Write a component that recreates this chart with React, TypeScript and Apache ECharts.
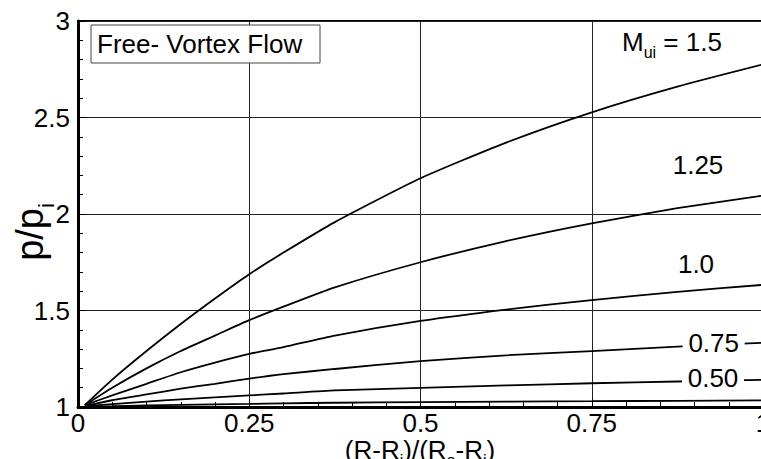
import { useEffect, useRef } from "react";
import * as echarts from "echarts";

// x = (R-Ri)/(Ro-Ri)
const xValues = [0.01, 0.05, 0.1, 0.15, 0.2, 0.25, 0.3, 0.375, 0.5, 0.625, 0.75, 0.875, 1.0];
// p/pi for each inlet Mach number
const m150 = [1.01, 1.142, 1.29, 1.43, 1.562, 1.688, 1.8, 1.958, 2.185, 2.37, 2.527, 2.66, 2.775];
const m125 = [1.01, 1.1, 1.2, 1.29, 1.37, 1.45, 1.52, 1.62, 1.75, 1.86, 1.952, 2.03, 2.095];
const m100 = [1.01, 1.06, 1.12, 1.18, 1.23, 1.275, 1.31, 1.37, 1.446, 1.505, 1.554, 1.597, 1.633];
const m075 = [1.005, 1.035, 1.065, 1.095, 1.12, 1.147, 1.17, 1.197, 1.238, 1.268, 1.29, 1.313, 1.333];
const m050 = [1.003, 1.015, 1.028, 1.04, 1.05, 1.06, 1.07, 1.086, 1.099, 1.112, 1.123, 1.132, 1.141];
const m025 = [1.001, 1.004, 1.008, 1.011, 1.014, 1.016, 1.019, 1.022, 1.025, 1.028, 1.03, 1.032, 1.034];

const seriesNames = ["1.5", "1.25", "1.0", "0.75", "0.50", "0.25"];
const seriesValues = [m150, m125, m100, m075, m050, m025];

const FONT = '"Liberation Sans", Arial, Helvetica, sans-serif';

export default function App() {
  const ref = useRef<HTMLDivElement>(null);
  useEffect(() => {
    if (!ref.current) return;
    const chart = echarts.init(ref.current, null, { renderer: "svg" });
    const inlineLabel = (text: string, coord: [number, number]) => ({
      silent: true,
      symbol: "rect",
      symbolSize: [62, 24],
      itemStyle: { color: "#fff" },
      label: {
        show: true,
        position: "inside",
        formatter: text,
        color: "#000",
        fontSize: 26,
        fontFamily: FONT,
      },
      data: [{ coord }],
    });
    const series = seriesValues.map((vals, i) => {
      const s: any = {
        name: seriesNames[i],
        type: "line",
        data: xValues.map((x, j) => [x, vals[j]]),
        showSymbol: false,
        smooth: 0.2,
        lineStyle: { color: "#000", width: 1.8 },
        z: 3,
      };
      if (seriesNames[i] === "0.75") s.markPoint = inlineLabel("0.75", [0.928, 1.333]);
      if (seriesNames[i] === "0.50") s.markPoint = inlineLabel("0.50", [0.927, 1.152]);
      return s;
    });
    const subRich = {
      m: { fontSize: 26, lineHeight: 26, verticalAlign: "top", fontFamily: FONT, color: "#000" },
      s: { fontSize: 16, lineHeight: 31, verticalAlign: "bottom", fontFamily: FONT, color: "#000" },
    };
    chart.setOption({
      animation: false,
      backgroundColor: "#fff",
      grid: {
        left: 78,
        top: 21,
        width: 685,
        height: 386,
        outerBoundsMode: "none",
        containLabel: false,
        show: true,
        borderColor: "#000",
        borderWidth: 2,
        backgroundColor: "transparent",
      },
      xAxis: {
        type: "value",
        min: 0,
        max: 1,
        interval: 0.25,
        axisLine: { show: true, onZero: false, lineStyle: { color: "#000", width: 3 } },
        axisTick: { show: true, inside: true, length: 8, lineStyle: { color: "#000", width: 1 } },
        minorTick: { show: true, splitNumber: 5, length: 5, lineStyle: { color: "#000", width: 1 } },
        splitLine: { show: true, lineStyle: { color: "#222", width: 1 } },
        axisLabel: { fontSize: 26, color: "#000", fontFamily: FONT, margin: 3 },
      },
      yAxis: {
        type: "value",
        min: 1,
        max: 3,
        interval: 0.5,
        axisLine: { show: true, onZero: false, lineStyle: { color: "#000", width: 3 } },
        axisTick: { show: true, inside: true, length: 8, lineStyle: { color: "#000", width: 1 } },
        minorTick: { show: true, splitNumber: 5, length: 5, lineStyle: { color: "#000", width: 1 } },
        splitLine: { show: true, lineStyle: { color: "#222", width: 1 } },
        axisLabel: { fontSize: 26, color: "#000", fontFamily: FONT, margin: 8 },
      },
      series,
      graphic: [
        {
          type: "rect",
          shape: { x: 91, y: 25, width: 229, height: 38 },
          style: { fill: "#fff", stroke: "#444", lineWidth: 1 },
          z: 100,
        },
        {
          type: "text",
          x: 97,
          y: 44,
          z: 101,
          style: { text: "Free- Vortex Flow", fontSize: 26, fontFamily: FONT, fill: "#000", verticalAlign: "middle" },
        },
        {
          type: "text",
          x: 622,
          y: 29,
          z: 101,
          style: { text: "{m|M}{s|ui}{m| = 1.5}", rich: subRich, verticalAlign: "top", fill: "#000" },
        },
        {
          type: "text",
          x: 698,
          y: 165,
          z: 101,
          style: { text: "1.25", fontSize: 26, fontFamily: FONT, fill: "#000", align: "center", verticalAlign: "middle" },
        },
        {
          type: "text",
          x: 696,
          y: 264,
          z: 101,
          style: { text: "1.0", fontSize: 26, fontFamily: FONT, fill: "#000", align: "center", verticalAlign: "middle" },
        },
        {
          type: "text",
          x: 420,
          y: 437,
          z: 101,
          style: {
            text: "{m|(R-R}{s|i}{m|)/(R}{s|o}{m|-R}{s|i}{m|)}",
            rich: subRich,
            align: "center",
            verticalAlign: "top",
            fill: "#000",
          },
        },
        {
          type: "text",
          x: 34,
          y: 232,
          rotation: Math.PI / 2,
          z: 101,
          style: {
            text: "{m|p/p}{s|i}",
            rich: {
              m: { fontSize: 38, lineHeight: 38, verticalAlign: "top", fontFamily: FONT, color: "#000" },
              s: { fontSize: 22, lineHeight: 46, verticalAlign: "bottom", fontFamily: FONT, color: "#000" },
            },
            align: "center",
            verticalAlign: "middle",
            fill: "#000",
          },
        },
      ],
    });
    return () => chart.dispose();
  }, []);
  return (
    <div
      ref={ref}
      style={{ position: "fixed", left: 0, top: 0, width: 761, height: 459 }}
    />
  );
}
